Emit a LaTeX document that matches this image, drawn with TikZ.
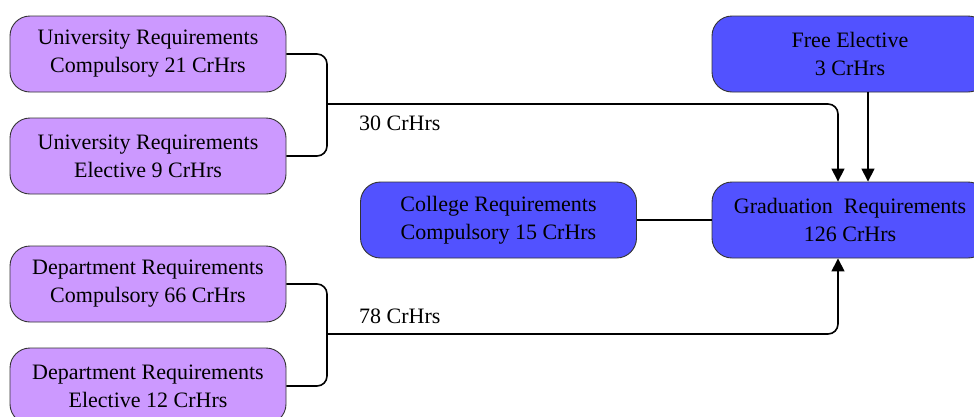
\documentclass[tikz,border=0pt]{standalone}
\usepackage{fontspec}
\setmainfont{Liberation Serif}
\usetikzlibrary{arrows.meta}
\definecolor{lilac}{RGB}{204,153,255}
\definecolor{bluebox}{RGB}{82,82,255}
\tikzset{
  basebox/.style={draw=black!80, line width=0.9pt, rounded corners=20pt, minimum width=276pt, minimum height=76pt, align=center, inner sep=0pt, font=\fontsize{22}{28}\selectfont},
  pbox/.style={basebox, fill=lilac},
  bbox/.style={basebox, fill=bluebox},
  conn/.style={line width=1.6pt, rounded corners=10pt},
  tip/.style={-{Triangle[length=13pt,width=13pt]}},
  lbl/.style={anchor=west, inner sep=0pt, font=\fontsize{22}{28}\selectfont}
}
\begin{document}
\begin{tikzpicture}[x=1pt,y=-1pt]
\useasboundingbox (0,0) rectangle (974,416);
\clip (0,0) rectangle (974,416);
\node[pbox] (uc) at (148,54) {University Requirements\\Compulsory 21 CrHrs};
\node[pbox] (ue) at (148,156) {University Requirements\\Elective 9 CrHrs};
\node[pbox] (dc) at (148,284) {Department Requirements\\Compulsory 66 CrHrs};
\node[pbox] (de) at (148,386) {Department Requirements\\Elective 12 CrHrs};
\node[bbox] (col) at (498.5,220) {College Requirements\\Compulsory 15 CrHrs};
\node[bbox] (fe) at (850,54) {Free Elective\\3 CrHrs};
\node[bbox] (gr) at (850,220) {Graduation\ \ Requirements\\126 CrHrs};
\coordinate (j1) at (327,104);
\coordinate (j2) at (327,334);
\draw[conn] (uc.east) -| (j1) |- (ue.east);
\draw[conn] (dc.east) -| (j2) |- (de.east);
\draw[conn, tip] (j1) -| ([xshift=-12pt]gr.north);
\draw[conn, tip] (j2) -| ([xshift=-12pt]gr.south);
\draw[conn, tip] ([xshift=18pt]fe.south) -- ([xshift=18pt]gr.north);
\draw[conn] (col.east) -- (gr.west);
\node[lbl] (l30) at (359,123) {30 CrHrs};
\node[lbl] (l78) at (359,316) {78 CrHrs};
\end{tikzpicture}
\end{document}
